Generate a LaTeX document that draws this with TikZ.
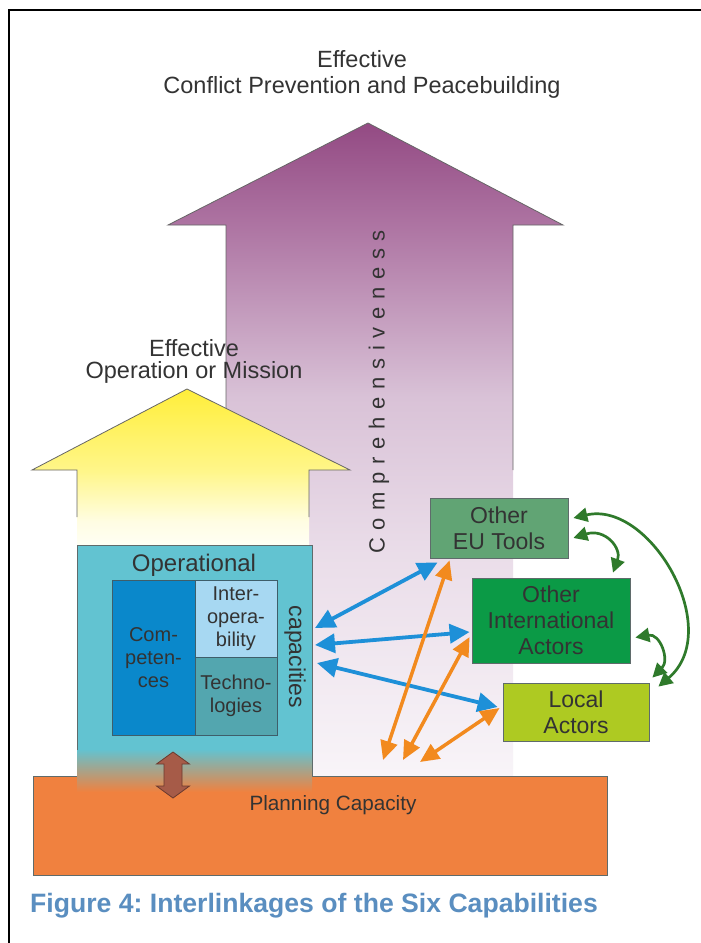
\documentclass[tikz,border=0pt]{standalone}
\usepackage{fontspec}
\setmainfont{Liberation Sans}
\usetikzlibrary{arrows.meta}
\frenchspacing
\definecolor{txt}{HTML}{333333}
\definecolor{boxline}{HTML}{5F6B6B}
\definecolor{gridline}{HTML}{3E5E6A}
\definecolor{tealc}{HTML}{62C3D1}
\definecolor{compc}{HTML}{0A88CB}
\definecolor{interc}{HTML}{A7D8F2}
\definecolor{techc}{HTML}{53A6AF}
\definecolor{planc}{HTML}{F0813F}
\definecolor{euc}{HTML}{61A474}
\definecolor{intlc}{HTML}{0B9A46}
\definecolor{localc}{HTML}{AECA22}
\definecolor{arrblue}{HTML}{1E90D8}
\definecolor{arrorange}{HTML}{F28A1E}
\definecolor{arrgreen}{HTML}{2F7A2B}
\definecolor{brownc}{HTML}{A65B48}
\definecolor{brownline}{HTML}{6B3A2E}
\definecolor{capc}{HTML}{5A8EC0}
\definecolor{pA}{HTML}{F8F4F8}
\definecolor{pB}{HTML}{EADDE9}
\definecolor{pC}{HTML}{D9C2D7}
\definecolor{pD}{HTML}{AE75A3}
\definecolor{pE}{HTML}{934A83}
\definecolor{yA}{HTML}{FFFFF6}
\definecolor{yB}{HTML}{FFFDE3}
\definecolor{yC}{HTML}{FFF68A}
\definecolor{yD}{HTML}{FFEE3A}
\pgfdeclareverticalshading{purpsh}{100bp}{color(0bp)=(pA); color(25bp)=(pA); color(42bp)=(pB); color(54bp)=(pC); color(67bp)=(pD); color(75bp)=(pE); color(100bp)=(pE)}
\pgfdeclareverticalshading{yelsh}{100bp}{color(0bp)=(yA); color(25bp)=(yA); color(33bp)=(yB); color(49bp)=(yC); color(75bp)=(yD); color(100bp)=(yD)}
\tikzset{
  lbl/.style={text=txt, inner sep=0pt, font=\fontsize{23.5}{26}\selectfont},
  rbox/.style={draw=boxline, line width=0.8pt, align=center, text=txt, inner sep=0pt, font=\fontsize{23}{26}\selectfont},
  gridbox/.style={draw=gridline, line width=0.8pt, align=center, text=txt, inner sep=0pt, font=\fontsize{20}{23}\selectfont},
  outl/.style={draw=gray!80!black, line width=0.8pt},
  bluearr/.style={draw=arrblue, line width=3.8pt, {Triangle[length=20pt,width=19pt]}-{Triangle[length=20pt,width=19pt]}},
  orarr/.style={draw=arrorange, line width=3.5pt, {Triangle[length=19pt,width=17pt]}-{Triangle[length=19pt,width=17pt]}},
  grarr/.style={draw=arrgreen, line width=2.7pt, {Triangle[length=14pt,width=14pt]}-{Triangle[length=14pt,width=14pt]}}
}
\begin{document}
\begin{tikzpicture}[x=1pt,y=-1pt]
\useasboundingbox (0,0) rectangle (701,943);
\fill[white] (0,0) rectangle (701,943);
% frame
\draw[line width=2pt, black] (9,943) -- (9,10) -- (701,10);
% purple arrow
\path[shading=purpsh] (226,776) -- (226,225) -- (168,225) -- (368,123) -- (563,225) -- (513,225) -- (513,776) -- cycle;
\draw[outl] (226,470) -- (226,225) -- (168,225) -- (368,123) -- (563,225) -- (513,225) -- (513,470);
% yellow arrow
\path[shading=yelsh] (77,547) -- (77,470) -- (32,470) -- (187,389) -- (350,470) -- (309,470) -- (309,547) -- cycle;
\draw[outl] (77,517) -- (77,470) -- (32,470) -- (187,389) -- (350,470) -- (309,470) -- (309,517);
% titles
\node[lbl, anchor=base] (t1) at (362,67) {Effective};
\node[lbl, anchor=base] (t2) at (362,93) {Conflict Prevention and Peacebuilding};
\node[lbl, anchor=base] (t3) at (194,356) {Effective};
\node[lbl, anchor=base] (t4) at (194,378) {Operation or Mission};
\node[rotate=90, text=txt, inner sep=0pt, font=\fontsize{22}{24}\selectfont\addfontfeature{LetterSpace=35}] (compr) at (379,392) {Comprehensiveness};
% planning capacity
\node[draw=boxline, line width=0.8pt, fill=planc, minimum width=574pt, minimum height=99pt, inner sep=0pt] (plan) at (320,825.5) {};
\node[text=txt, inner sep=0pt, anchor=base, font=\fontsize{20.7}{24}\selectfont] (planl) at (333,810) {Planning Capacity};
% operational capacities box
\fill[tealc] (77,545) rectangle (312,750);
\shade[top color=tealc, bottom color=planc] (77,749) rectangle (312,792);
\draw[draw=boxline, line width=0.8pt] (77,750) -- (77,545) -- (312,545) -- (312,776);
\node[inner sep=0pt, minimum width=235pt, minimum height=231pt] (ops) at (194.5,660.5) {};
\node[lbl, font=\fontsize{24}{26}\selectfont, anchor=base] (opl) at (194,571) {Operational};
\node[lbl, rotate=-90, font=\fontsize{23}{26}\selectfont] (capl) at (295,657) {capacities};
\node[gridbox, fill=compc, minimum width=83pt, minimum height=155pt] (compet) at (153.5,657.5) {Com-\\peten-\\ces};
\node[gridbox, fill=interc, minimum width=82pt, minimum height=77pt] (inter) at (236,618.5) {Inter-\\opera-\\bility};
\node[gridbox, fill=techc, minimum width=82pt, minimum height=78pt] (tech) at (236,696) {Techno-\\logies};
% brown double arrow
\draw[fill=brownc, draw=brownline, line width=0.8pt] (173,752) -- (189.5,764) -- (182,764) -- (182,786) -- (189.5,786) -- (173,798) -- (156.5,786) -- (164,786) -- (164,764) -- (156.5,764) -- cycle;
% right boxes
\node[rbox, fill=euc, minimum width=138pt, minimum height=60pt] (eu) at (499,528) {Other\\EU Tools};
\node[rbox, fill=intlc, minimum width=158pt, minimum height=85pt] (intl) at (551,620.5) {Other\\International\\Actors};
\node[rbox, fill=localc, minimum width=146pt, minimum height=58pt] (local) at (576,712) {Local\\Actors};
% connector ends
\coordinate (b1) at (315,628);
\coordinate (b2) at (315,645);
\coordinate (b3) at (317,663);
\coordinate (o1) at (383,760);
\coordinate (o2) at (403,760);
\coordinate (o3) at (420,762);
% blue arrows
\draw[bluearr] (b1) -- ([xshift=8pt,yshift=-4pt]eu.south west);
\draw[bluearr] (b2) -- ([xshift=-2pt,yshift=-11.5pt]intl.west);
\draw[bluearr] (b3) -- ([xshift=-5pt,yshift=5pt]local.west);
% orange arrows
\draw[orarr] ([xshift=20pt,yshift=-2pt]eu.south west) -- (o1);
\draw[orarr] ([xshift=-2pt,yshift=-16.5pt]intl.west) -- (o2);
\draw[orarr] ([xshift=-3pt,yshift=4pt]local.west) -- (o3);
% green arrows
\draw[grarr] ([xshift=5pt,yshift=10pt]eu.east) .. controls (650,500) and (725,630) .. ([xshift=9pt,yshift=-4pt]local.north east);
\draw[grarr] ([xshift=5pt,yshift=-10pt]eu.east) .. controls (605,528) and (622,548) .. ([xshift=62pt,yshift=5pt]intl.north);
\draw[grarr] ([xshift=5pt,yshift=-17pt]intl.east) .. controls (660,633) and (670,660) .. ([xshift=3pt,yshift=5pt]local.north east);
% caption
\node[text=capc, inner sep=0pt, anchor=base west, font=\bfseries\fontsize{26.6}{30}\selectfont] (cap) at (30,912) {Figure 4: Interlinkages of the Six Capabilities};
\end{tikzpicture}
\end{document}
